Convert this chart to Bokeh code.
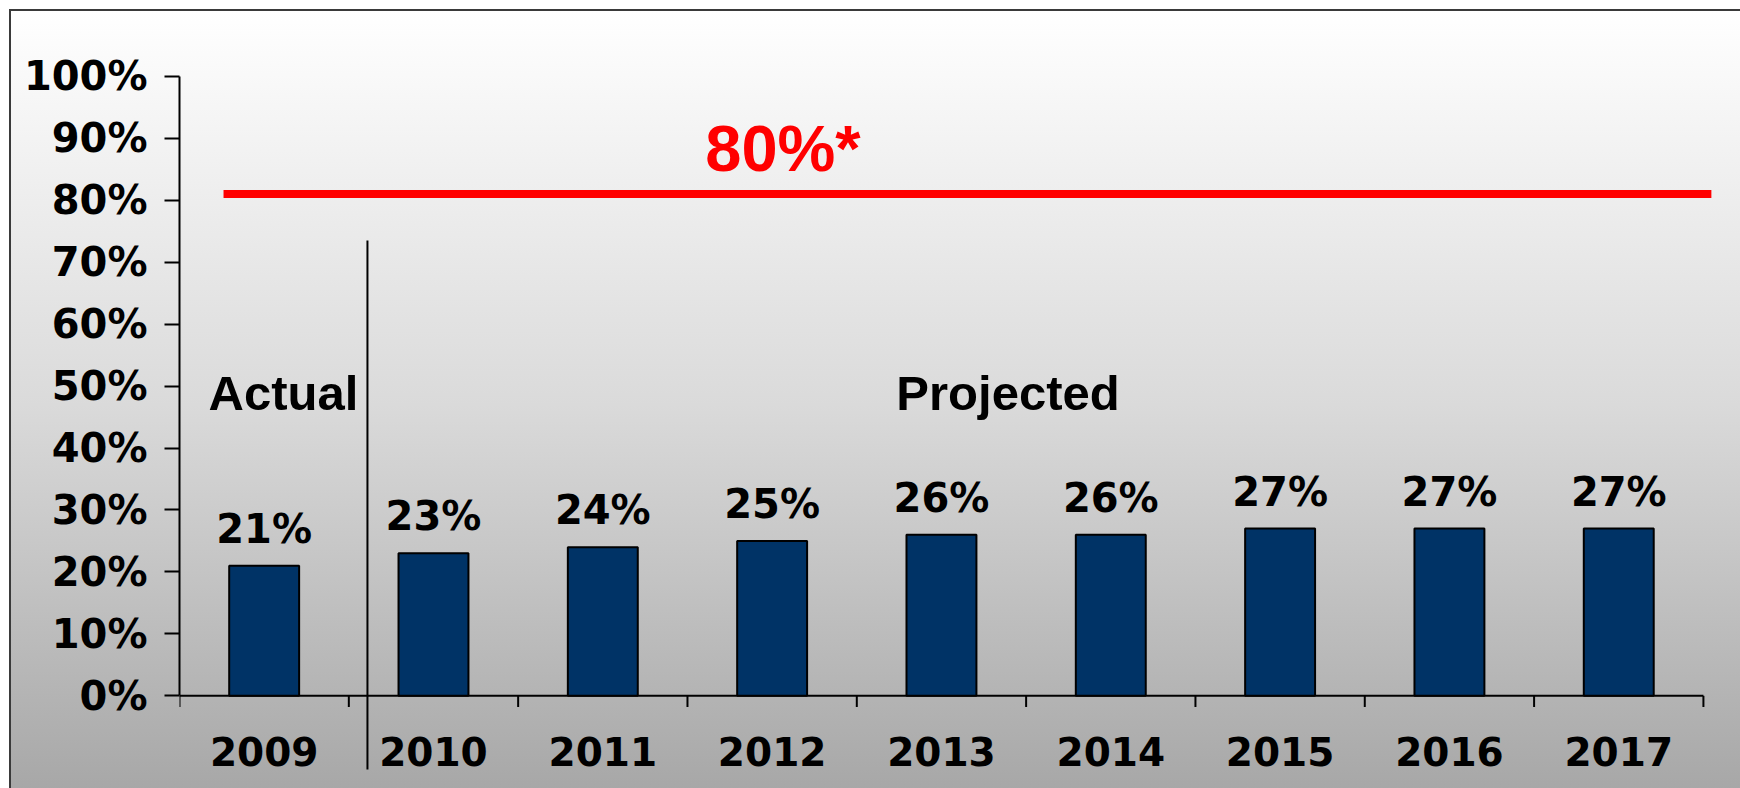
from bokeh.plotting import figure
from bokeh.models import Range1d, FixedTicker, LinearAxis, ColumnDataSource
from bokeh.core.properties import value
from bokeh.embed import file_html
from bokeh.resources import INLINE

# ---- data ----
years = ["2009", "2010", "2011", "2012", "2013", "2014", "2015", "2016", "2017"]
shares = [21, 23, 24, 25, 26, 26, 27, 27, 27]
share_labels = ["21%", "23%", "24%", "25%", "26%", "26%", "27%", "27%", "27%"]
y_ticks = [0, 10, 20, 30, 40, 50, 60, 70, 80, 90, 100]
y_tick_labels = ["0%", "10%", "20%", "30%", "40%", "50%", "60%", "70%", "80%", "90%", "100%"]
target_label = "80%*"
target_level = 81
period_labels = ["Actual", "Projected"]
n_actual = 1

# ---- derived ----
n = len(years)
centers = [i + 0.5 for i in range(n)]
bounds_x = list(range(n + 1))

BAR = "#003366"
TXT_FONT = value("DejaVu Sans")
HEAD_FONT = value("Liberation Sans")

p = figure(
    width=1740, height=788,
    x_range=Range1d(0, 9.219), y_range=Range1d(-14.96, 112.24),
    output_backend="svg", toolbar_location=None,
    x_axis_type=None, y_axis_type=None,
    min_border_left=179, min_border_right=0, min_border_top=0, min_border_bottom=0,
    styles={
        "background-image": "linear-gradient(#3a3a3a,#3a3a3a), linear-gradient(#3a3a3a,#3a3a3a), "
                            "linear-gradient(to bottom, #ffffff 0%, #dadada 50%, #a6a6a6 100%)",
        "background-size": "100% 2px, 2px 100%, 100% 100%",
        "background-position": "9px 9px, 9px 9px, 11px 11px",
        "background-repeat": "no-repeat",
        "background-color": "white",
    },
)
p.background_fill_color = None
p.border_fill_color = None
p.outline_line_color = None

# y axis
yaxis = LinearAxis(ticker=FixedTicker(ticks=y_ticks, minor_ticks=[]), bounds=(0, 100))
yaxis.major_label_overrides = {t: l for t, l in zip(y_ticks, y_tick_labels)}
yaxis.axis_line_width = 2
yaxis.axis_line_color = "black"
yaxis.major_tick_line_width = 2
yaxis.major_tick_line_color = "black"
yaxis.major_tick_out = 15
yaxis.major_tick_in = 0
yaxis.minor_tick_line_color = None
yaxis.major_label_standoff = 17
yaxis.major_label_text_font = "DejaVu Sans"
yaxis.major_label_text_font_style = "bold"
yaxis.major_label_text_font_size = "40px"
yaxis.major_label_text_color = "black"
p.add_layout(yaxis, "left")

# target line
p.segment(x0=[0.26], x1=[9.047], y0=[target_level], y1=[target_level],
          line_color="#ff0000", line_width=8)
p.text(x=[3.564], y=[target_level], text=[target_label], text_font=HEAD_FONT,
       text_font_style="bold", text_font_size="65px", text_color="#ff0000",
       text_align="center", text_baseline="alphabetic", y_offset=-46)

# x axis line and boundary ticks
p.segment(x0=[0], x1=[n], y0=[0], y1=[0], line_color="black", line_width=2)
p.segment(x0=bounds_x, x1=bounds_x, y0=[0] * (n + 1), y1=[-1.8] * (n + 1),
          line_color="black", line_width=2)

# bars
src = ColumnDataSource(dict(x=centers, top=shares, lab=share_labels, yr=years,
                            zero=[0] * n))
p.vbar(x="x", top="top", bottom=0, width=0.413, source=src,
       fill_color=BAR, line_color="black", line_width=2)
p.text(x="x", y="top", text="lab", source=src, text_font=TXT_FONT,
       text_font_style="bold", text_font_size="40px", text_color="black",
       text_align="center", text_baseline="alphabetic", y_offset=-37)
p.text(x="x", y="zero", text="yr", source=src, text_font=TXT_FONT,
       text_font_style="bold", text_font_size="39px", text_color="black",
       text_align="center", text_baseline="alphabetic", y_offset=56)

# actual / projected divider and labels
div_x = n_actual + 0.11
p.segment(x0=[div_x], x1=[div_x], y0=[73.5], y1=[-11.9], line_color="black", line_width=2)
p.text(x=[0.614, 4.893], y=[46, 46], text=period_labels, text_font=HEAD_FONT,
       text_font_style="bold", text_font_size="49px", text_color="black",
       text_align="center", text_baseline="alphabetic", y_offset=-18)

open("out.html", "w").write(file_html(p, INLINE))
